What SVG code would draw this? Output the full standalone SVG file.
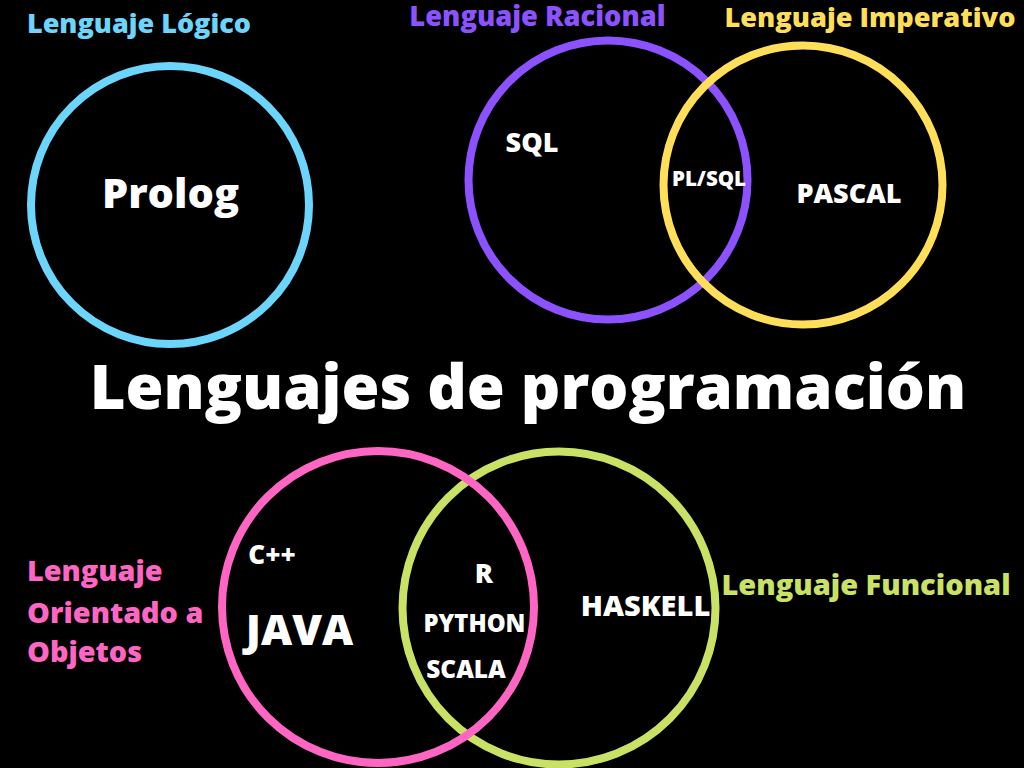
<svg xmlns="http://www.w3.org/2000/svg" width="1024" height="768" viewBox="0 0 1024 768">
<style>
text{font-family:"Open Sans","Liberation Sans",sans-serif;font-weight:800;}
.w{fill:#ffffff;}
.c{text-anchor:middle;}
.ring{fill:none;stroke-width:8;}
</style>
<rect x="0" y="0" width="1024" height="768" fill="#000000"/>
<g id="logico">
<circle class="ring" cx="170" cy="205" r="139" stroke="#6cd5fb"/>
<text class="c" x="139" y="33" font-size="27" fill="#6cd5fb">Lenguaje Lógico</text>
<text class="w c" x="170.5" y="208" font-size="41.5">Prolog</text>
</g>
<g id="racional">
<circle class="ring" cx="608" cy="180" r="139.5" stroke="#8c52ff"/>
<text class="c" x="537.5" y="26" font-size="27.3" fill="#8c52ff">Lenguaje Racional</text>
<text class="w c" x="532" y="152" font-size="27">SQL</text>
</g>
<g id="imperativo">
<circle class="ring" cx="803" cy="185" r="139.5" stroke="#ffde59"/>
<text class="c" x="870" y="27" font-size="27.2" fill="#ffde59">Lenguaje Imperativo</text>
<text class="w c" x="849" y="203" font-size="27">PASCAL</text>
</g>
<g id="plsql">
<text class="w c" x="709" y="186" font-size="20.5">PL/SQL</text>
</g>
<g id="titulo">
<text class="w c" x="528" y="409" font-size="61.5">Lenguajes de programación</text>
</g>
<g id="funcional">
<circle class="ring" cx="559" cy="608" r="156.5" stroke="#c9e265"/>
<text class="c" x="866" y="595" font-size="29" fill="#c9e265">Lenguaje Funcional</text>
<text class="w c" x="645.5" y="616" font-size="29">HASKELL</text>
</g>
<g id="objetos">
<circle class="ring" cx="378" cy="607" r="156" stroke="#ff66c4"/>
<text x="27" y="581" font-size="28.8" fill="#ff66c4">Lenguaje</text>
<text x="27" y="623" font-size="28.8" fill="#ff66c4">Orientado a</text>
<text x="27" y="662" font-size="28.8" fill="#ff66c4">Objetos</text>
<text class="w c" x="272" y="564" font-size="26">C++</text>
<text class="w c" x="299.5" y="645" font-size="43">JAVA</text>
</g>
<g id="interseccion">
<text class="w c" x="484" y="583" font-size="27">R</text>
<text class="w c" x="474.5" y="632" font-size="23.8">PYTHON</text>
<text class="w c" x="466" y="678" font-size="24.4">SCALA</text>
</g>
<g id="connectors"></g>
</svg>
